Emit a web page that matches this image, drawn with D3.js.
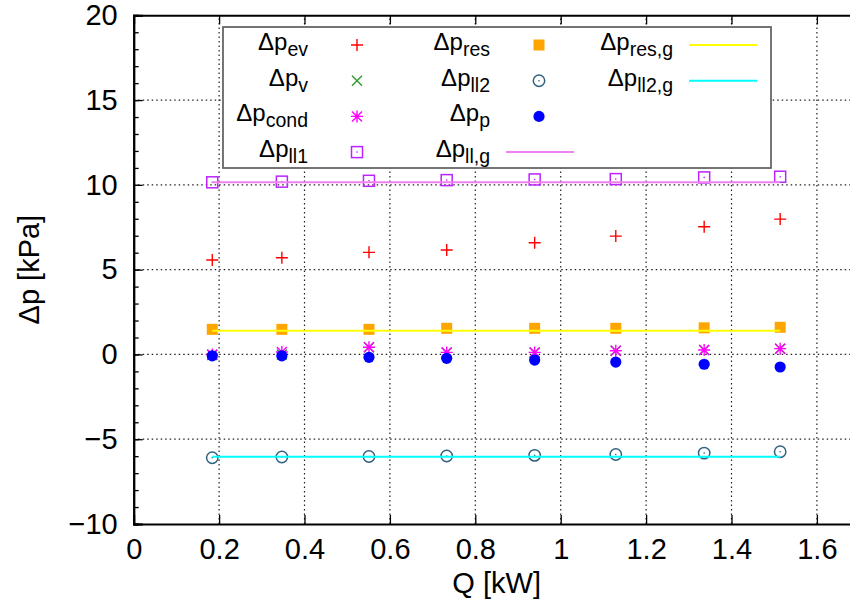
<!DOCTYPE html>
<html>
<head>
<meta charset="utf-8">
<script src="https://cdn.jsdelivr.net/npm/d3@7"></script>
<style>
  html, body { margin: 0; padding: 0; background: #fff; }
  svg { display: block; }
  text { font-family: "Liberation Sans", Arial, Helvetica, sans-serif; fill: #000; }
</style>
</head>
<body>
<svg id="chart" width="850" height="603"></svg>
<script>
// ---- data ----
const Q        = [0.184, 0.347, 0.551, 0.733, 0.939, 1.129, 1.336, 1.514];
const dpEv     = [5.57, 5.70, 6.02, 6.16, 6.59, 6.98, 7.53, 7.98];
const dpV      = [-0.03, 0.0, 0.42, 0.12, 0.12, 0.22, 0.26, 0.34];
const dpCond   = [0.0, 0.14, 0.42, 0.12, 0.12, 0.22, 0.26, 0.34];
const dpLl1    = [10.15, 10.19, 10.24, 10.28, 10.32, 10.34, 10.44, 10.48];
const dpRes    = [1.48, 1.48, 1.48, 1.54, 1.54, 1.54, 1.57, 1.60];
const dpLl2    = [-6.09, -6.05, -6.02, -5.99, -5.95, -5.90, -5.82, -5.74];
const dpP      = [-0.08, -0.08, -0.17, -0.23, -0.33, -0.45, -0.58, -0.74];
const dpLlG    = 10.15;
const dpResG   = 1.40;
const dpLl2G   = -6.03;

const xTickValues = [0, 0.2, 0.4, 0.6, 0.8, 1, 1.2, 1.4, 1.6];
const xTickLabels = ["0", "0.2", "0.4", "0.6", "0.8", "1", "1.2", "1.4", "1.6"];
const yTickValues = [-10, -5, 0, 5, 10, 15, 20];
const yTickLabels = ["\u221210", "\u22125", "0", "5", "10", "15", "20"];
const yMinorTicks = d3.range(-10, 21, 1);

const xTitle = "Q [kW]";
const yTitle = "\u0394p [kPa]";

// ---- layout ----
const svg = d3.select("#chart");
const x = d3.scaleLinear().domain([0, 1.7]).range([133.7, 859.6]);
const y = d3.scaleLinear().domain([-10, 20]).range([524, 15.3]);
const FONT = 29;

// grid
const grid = svg.append("g");
grid.selectAll("line.gx").data(xTickValues.filter(v => v > 0)).enter().append("line")
  .attr("x1", d => x(d)).attr("x2", d => x(d))
  .attr("y1", y(-10)).attr("y2", y(20))
  .attr("stroke", "#222").attr("stroke-width", 1.2).attr("stroke-dasharray", "1.5,3");
grid.selectAll("line.gy").data(yTickValues.filter(v => v > -10 && v < 20)).enter().append("line")
  .attr("x1", x(0)).attr("x2", x(1.7))
  .attr("y1", d => y(d)).attr("y2", d => y(d))
  .attr("stroke", "#222").attr("stroke-width", 1.2).attr("stroke-dasharray", "1.5,3");

// axes
const fmtX = d => xTickLabels[xTickValues.indexOf(d)];
const fmtY = d => yTickLabels[yTickValues.indexOf(d)];

const gx = svg.append("g").attr("transform", `translate(0,${y(-10)})`)
  .call(d3.axisBottom(x).tickValues(xTickValues).tickFormat(fmtX).tickSize(-9).tickPadding(14));
const gxTop = svg.append("g").attr("transform", `translate(0,${y(20)})`)
  .call(d3.axisTop(x).tickValues(xTickValues).tickFormat("").tickSize(-9));
const gyMinor = svg.append("g").attr("transform", `translate(${x(0)},0)`)
  .call(d3.axisLeft(y).tickValues(yMinorTicks).tickFormat("").tickSize(-5));
const gy = svg.append("g").attr("transform", `translate(${x(0)},0)`)
  .call(d3.axisLeft(y).tickValues(yTickValues).tickFormat(fmtY).tickSize(-9).tickPadding(16));

[gx, gxTop, gyMinor, gy].forEach(g => {
  g.select(".domain").attr("stroke", "#000").attr("stroke-width", 2);
  g.selectAll(".tick line").attr("stroke", "#000").attr("stroke-width", 1.3);
  g.selectAll("text").attr("font-size", FONT).attr("font-family", '"Liberation Sans", Arial, sans-serif').attr("fill", "#000");
});

// axis titles
svg.append("text").attr("x", (x(0) + x(1.7)) / 2).attr("y", 593)
  .attr("text-anchor", "middle").attr("font-size", FONT).text(xTitle);
svg.append("text").attr("transform", `translate(39,${(y(-10) + y(20)) / 2}) rotate(-90)`)
  .attr("text-anchor", "middle").attr("font-size", FONT).text(yTitle);

// ---- markers ----
function marker(g, kind, color, cx, cy) {
  const s = 6;
  if (kind === "plus") {
    g.append("path").attr("d", `M${cx - s},${cy}H${cx + s}M${cx},${cy - s}V${cy + s}`)
      .attr("stroke", color).attr("stroke-width", 1.4).attr("fill", "none");
  } else if (kind === "cross") {
    const t = 5;
    g.append("path").attr("d", `M${cx - t},${cy - t}L${cx + t},${cy + t}M${cx - t},${cy + t}L${cx + t},${cy - t}`)
      .attr("stroke", color).attr("stroke-width", 1.4).attr("fill", "none");
  } else if (kind === "star") {
    const t = 5;
    g.append("path").attr("d", `M${cx - s},${cy}H${cx + s}M${cx},${cy - s}V${cy + s}M${cx - t},${cy - t}L${cx + t},${cy + t}M${cx - t},${cy + t}L${cx + t},${cy - t}`)
      .attr("stroke", color).attr("stroke-width", 1.4).attr("fill", "none");
  } else if (kind === "boxdot") {
    g.append("rect").attr("x", cx - 5.5).attr("y", cy - 5.5).attr("width", 11).attr("height", 11)
      .attr("stroke", color).attr("stroke-width", 1.5).attr("fill", "none");
    g.append("circle").attr("cx", cx).attr("cy", cy).attr("r", 0.8).attr("fill", color);
  } else if (kind === "box") {
    g.append("rect").attr("x", cx - 5.5).attr("y", cy - 5.5).attr("width", 11).attr("height", 11)
      .attr("fill", color);
  } else if (kind === "circdot") {
    g.append("circle").attr("cx", cx).attr("cy", cy).attr("r", 5.7)
      .attr("stroke", color).attr("stroke-width", 1.5).attr("fill", "none");
    g.append("circle").attr("cx", cx).attr("cy", cy).attr("r", 0.8).attr("fill", color);
  } else if (kind === "dot") {
    g.append("circle").attr("cx", cx).attr("cy", cy).attr("r", 5.6).attr("fill", color);
  }
}

const pointSeries = [
  { sub: "ev",   values: dpEv,   kind: "plus",    color: "#ff0000" },
  { sub: "v",    values: dpV,    kind: "cross",   color: "#2e9a2e" },
  { sub: "cond", values: dpCond, kind: "star",    color: "#ff00ff" },
  { sub: "ll1",  values: dpLl1,  kind: "boxdot",  color: "#bb22ff" },
  { sub: "res",  values: dpRes,  kind: "box",     color: "#ffa500" },
  { sub: "ll2",  values: dpLl2,  kind: "circdot", color: "#306080" },
  { sub: "p",    values: dpP,    kind: "dot",     color: "#0000ff" }
];
const lineSeries = [
  { sub: "ll,g",  value: dpLlG,  color: "#ee82ee" },
  { sub: "res,g", value: dpResG, color: "#ffff00" },
  { sub: "ll2,g", value: dpLl2G, color: "#00ffff" }
];

const dataG = svg.append("g");
pointSeries.forEach(s => {
  const g = dataG.append("g");
  Q.forEach((q, i) => marker(g, s.kind, s.color, x(q), y(s.values[i])));
});
const lineGen = d3.line().x(d => x(d[0])).y(d => y(d[1]));
lineSeries.forEach(s => {
  dataG.append("path")
    .attr("d", lineGen([[Q[0], s.value], [Q[Q.length - 1], s.value]]))
    .attr("stroke", s.color).attr("stroke-width", 2).attr("fill", "none");
});

// ---- legend ----
const lg = svg.append("g");
lg.append("rect").attr("x", 223).attr("y", 27).attr("width", 548).attr("height", 141)
  .attr("fill", "#fff").attr("stroke", "#666").attr("stroke-width", 1.8);

const entries = [...pointSeries.map(s => ({ ...s, type: "pt" })), ...lineSeries.map(s => ({ ...s, type: "ln" }))];
const colRight = [308, 490, 673];
const row0 = 45, rowStep = 35.7;
entries.forEach((e, i) => {
  const col = Math.floor(i / 4), row = i % 4;
  const ry = row0 + row * rowStep;
  const tr = colRight[col];
  const t = lg.append("text").attr("x", tr).attr("y", ry + 5).attr("text-anchor", "end").attr("font-size", 24);
  t.append("tspan").text("\u0394p");
  t.append("tspan").attr("dy", 6).attr("font-size", 19.5).text(e.sub);
  if (e.type === "pt") {
    marker(lg, e.kind, e.color, tr + 49, ry);
  } else {
    lg.append("line").attr("x1", tr + 16).attr("x2", tr + 84).attr("y1", ry).attr("y2", ry)
      .attr("stroke", e.color).attr("stroke-width", 2);
  }
});
</script>
</body>
</html>
